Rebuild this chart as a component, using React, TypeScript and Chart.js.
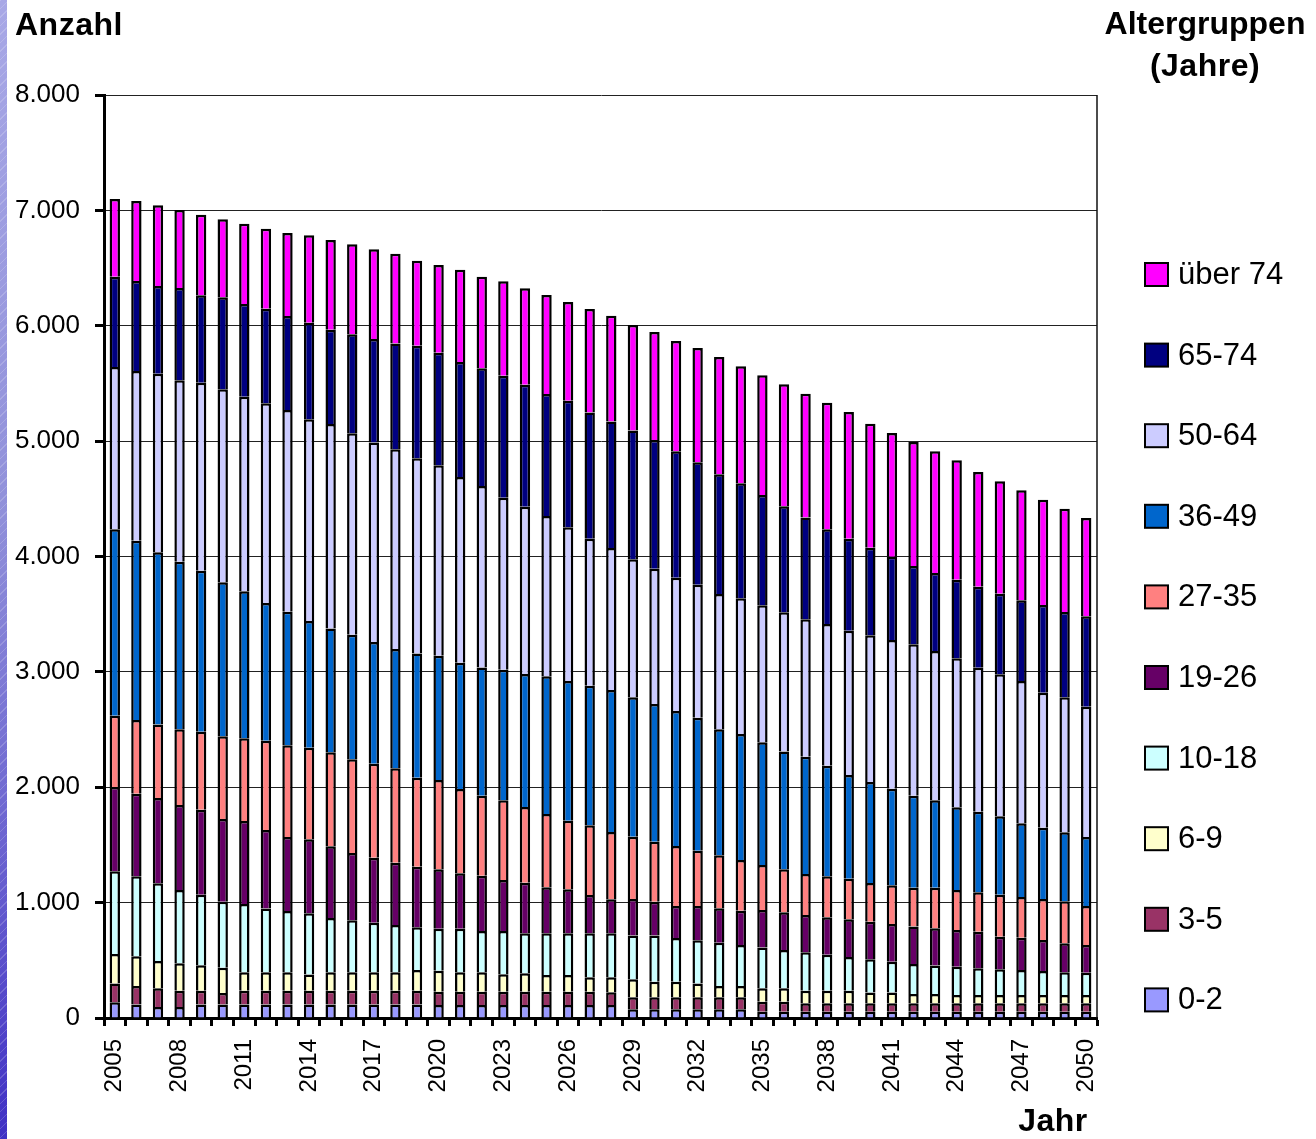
import { useEffect, useRef } from "react";
import { Chart, registerables } from "chart.js";

Chart.register(...registerables);

// Jahre 2005 bis 2050
const years = [
  "2005", "2006", "2007", "2008", "2009", "2010", "2011", "2012", "2013", "2014",
  "2015", "2016", "2017", "2018", "2019", "2020", "2021", "2022", "2023", "2024",
  "2025", "2026", "2027", "2028", "2029", "2030", "2031", "2032", "2033", "2034",
  "2035", "2036", "2037", "2038", "2039", "2040", "2041", "2042", "2043", "2044",
  "2045", "2046", "2047", "2048", "2049", "2050",
];

// Anzahl je Altersgruppe und Jahr
const age0to2 = [
  136, 116, 95, 95, 116, 116, 116, 116, 116, 116, 116, 116, 116, 116, 116,
  113, 113, 113, 113, 113, 113, 113, 113, 113,
  75, 75, 75, 75, 75, 75,
  55, 55, 55, 55, 55, 55, 55, 55, 55, 55, 55, 55, 55, 55, 55, 55,
];
const age3to5 = [
  162, 161, 162, 142, 121, 101, 121, 121, 121, 121, 121, 121, 121, 121, 121,
  115, 115, 115, 115, 115, 115, 115, 115, 110,
  104, 104, 104, 104, 104, 104,
  86, 86, 72, 72, 72, 72, 72, 72, 72, 72, 72, 72, 72, 72, 72, 72,
];
const age6to9 = [
  257, 258, 237, 237, 220, 219, 159, 159, 159, 139, 159, 159, 159, 159, 179,
  182, 168, 168, 151, 159, 145, 145, 125, 130,
  156, 136, 136, 121, 98, 98,
  116, 116, 110, 110, 110, 93, 93, 81, 81, 72, 72, 72, 72, 72, 72, 72,
];
const age10to18 = [
  716, 693, 673, 635, 612, 572, 592, 552, 531, 531, 471, 451, 430, 410, 370,
  364, 378, 358, 375, 347, 361, 361, 381, 381,
  379, 399, 378, 373, 376, 356,
  353, 332, 332, 312, 292, 289, 268, 260, 246, 246, 232, 223, 217, 208, 197, 194,
];
const age19to26 = [
  731, 716, 740, 737, 737, 717, 719, 681, 642, 642, 621, 583, 564, 540, 526,
  515, 480, 480, 442, 439, 399, 381, 332, 295,
  317, 294, 278, 298, 298, 297,
  326, 327, 324, 324, 326, 326, 327, 324, 323, 318, 317, 283, 280, 269, 251, 240,
];
const age27to35 = [
  618, 639, 636, 657, 676, 717, 717, 775, 795, 794, 815, 812, 814, 818, 771,
  774, 731, 693, 691, 656, 635, 595, 604, 583,
  541, 520, 520, 479, 459, 439,
  390, 373, 355, 355, 353, 335, 335, 338, 353, 346, 341, 364, 353, 355, 364, 338,
];
const age36to49 = [
  1616, 1554, 1493, 1452, 1395, 1334, 1274, 1193, 1158, 1098, 1074, 1080, 1055, 1034, 1077,
  1077, 1095, 1112, 1132, 1153, 1194, 1211, 1210, 1231,
  1208, 1194, 1170, 1153, 1093, 1093,
  1064, 1020, 1017, 959, 898, 876, 838, 797, 757, 717, 699, 679, 638, 619, 598, 598,
];
const age50to64 = [
  1406, 1471, 1549, 1572, 1630, 1673, 1687, 1731, 1748, 1748, 1771, 1746, 1728, 1731, 1691,
  1650, 1609, 1572, 1491, 1450, 1389, 1332, 1274, 1231,
  1196, 1172, 1155, 1153, 1172, 1176,
  1187, 1207, 1191, 1228, 1251, 1271, 1288, 1312, 1294, 1292, 1248, 1231, 1234, 1170, 1171, 1129,
];
const age65to74 = [
  783, 780, 760, 800, 757, 798, 804, 820, 815, 838, 818, 858, 898, 918, 976,
  977, 997, 1020, 1057, 1057, 1057, 1097, 1095, 1097,
  1117, 1116, 1096, 1061, 1037, 996,
  956, 919, 881, 821, 797, 759, 722, 679, 676, 681, 702, 699, 699, 760, 739, 784,
];
const age75plus = [
  674, 693, 699, 676, 699, 675, 696, 693, 719, 757, 777, 780, 778, 778, 737,
  760, 800, 794, 818, 835, 858, 856, 896, 916,
  913, 935, 956, 990, 1017, 1014,
  1037, 1057, 1074, 1097, 1098, 1075, 1072, 1074, 1055, 1035, 994, 974, 954, 912, 895, 852,
];

const groupLabels = ["0-2", "3-5", "6-9", "10-18", "19-26", "27-35", "36-49", "50-64", "65-74", "über 74"];
const groupColors = [
  "#9999FF", "#993366", "#FFFFCC", "#CCFFFF", "#660066",
  "#FF8080", "#0066CC", "#CCCCFF", "#000080", "#FF00FF",
];
const groupValues = [
  age0to2, age3to5, age6to9, age10to18, age19to26,
  age27to35, age36to49, age50to64, age65to74, age75plus,
];

const yTicks = [0, 1000, 2000, 3000, 4000, 5000, 6000, 7000, 8000];

const FONT = "'Liberation Sans', Arial, Helvetica, sans-serif";

function formatThousands(v: number): string {
  if (v === 0) return "0";
  const s = String(Math.round(v));
  return s.replace(/\B(?=(\d{3})+(?!\d))/g, ".");
}

// Titel, Legende und rechter Rahmen des Diagramms
const decorPlugin = {
  id: "decor",
  afterDraw(chart: any) {
    const { ctx, chartArea } = chart;
    ctx.save();

    ctx.strokeStyle = "#111";
    ctx.lineWidth = 1.5;
    ctx.beginPath();
    ctx.moveTo(chartArea.right, chartArea.top);
    ctx.lineTo(chartArea.right, chartArea.bottom);
    ctx.stroke();

    ctx.fillStyle = "#000";
    ctx.font = `bold 32px ${FONT}`;
    ctx.textBaseline = "alphabetic";
    (ctx as any).letterSpacing = "0.5px";
    ctx.textAlign = "left";
    ctx.fillText("Anzahl", 15, 35);
    ctx.textAlign = "center";
    ctx.fillText("(Jahre)", 1205, 76);
    ctx.fillText("Jahr", 1053, 1131);
    (ctx as any).letterSpacing = "0px";
    ctx.fillText("Altergruppen", 1205, 34);

    // Legende: oberste Altersgruppe zuerst
    const datasets = chart.data.datasets;
    ctx.font = `31px ${FONT}`;
    ctx.textAlign = "left";
    ctx.textBaseline = "middle";
    for (let i = 0; i < datasets.length; i++) {
      const ds = datasets[datasets.length - 1 - i];
      const cy = 274.5 + i * 80.6;
      ctx.fillStyle = ds.backgroundColor;
      ctx.fillRect(1145, cy - 11.5, 23, 23);
      ctx.strokeStyle = "#000";
      ctx.lineWidth = 2;
      ctx.strokeRect(1145, cy - 11.5, 23, 23);
      ctx.fillStyle = "#000";
      ctx.fillText(ds.label, 1178, cy + 1);
    }
    ctx.restore();
  },
};

export default function App() {
  const canvasRef = useRef<HTMLCanvasElement | null>(null);

  useEffect(() => {
    document.body.style.margin = "0";
    const canvas = canvasRef.current;
    if (!canvas) return;

    const chart = new Chart(canvas, {
      type: "bar",
      data: {
        labels: years,
        datasets: groupLabels.map((label, i) => ({
          label,
          data: groupValues[i],
          backgroundColor: groupColors[i],
          borderColor: "#000",
          borderWidth: 2.5,
          barPercentage: 0.48,
          categoryPercentage: 1.0,
        })),
      },
      options: {
        animation: false,
        responsive: false,
        layout: { padding: { left: 0, top: 95, right: 219, bottom: 0 } },
        plugins: {
          legend: { display: false },
          tooltip: { enabled: false },
          title: { display: false },
        },
        scales: {
          x: {
            stacked: true,
            grid: {
              display: true,
              offset: true,
              drawOnChartArea: false,
              drawTicks: true,
              tickLength: 8,
              tickWidth: 3,
              tickColor: "#000",
            },
            border: { display: true, width: 3, color: "#000" },
            ticks: {
              autoSkip: false,
              minRotation: 90,
              maxRotation: 90,
              padding: 13,
              color: "#000",
              font: { family: FONT, size: 24 },
              callback: (_v: any, index: number) =>
                (Number(years[index]) - 2005) % 3 === 0 ? years[index] : "",
            },
            afterFit: (scale: any) => {
              scale.height = 121;
            },
          },
          y: {
            stacked: true,
            min: 0,
            max: 8000,
            afterBuildTicks: (scale: any) => {
              scale.ticks = yTicks.map((v) => ({ value: v }));
            },
            grid: {
              color: "#222",
              lineWidth: 1,
              tickLength: 9,
              tickWidth: 3,
              tickColor: "#000",
            },
            border: { display: true, width: 3, color: "#000" },
            ticks: {
              padding: 15,
              color: "#000",
              font: { family: FONT, size: 26 },
              callback: (v: any) => formatThousands(Number(v)),
            },
            afterFit: (scale: any) => {
              scale.width = 104;
            },
          },
        },
      },
      plugins: [decorPlugin],
    });

    return () => {
      chart.destroy();
    };
  }, []);

  return (
    <div style={{ position: "relative", width: 1316, height: 1139, background: "#fff", overflow: "hidden" }}>
      <div
        style={{
          position: "absolute",
          left: 0,
          top: 0,
          width: 7,
          height: 1139,
          background:
            "repeating-linear-gradient(135deg, rgba(255,255,255,0.18) 0px, rgba(255,255,255,0.18) 1px, rgba(255,255,255,0) 1px, rgba(255,255,255,0) 6px), linear-gradient(to bottom, #a8a8e6 0%, #9090da 45%, #6a62d0 75%, #3f30c4 100%)",
        }}
      />
      <canvas ref={canvasRef} width={1316} height={1139} style={{ position: "absolute", left: 0, top: 0 }} />
    </div>
  );
}
